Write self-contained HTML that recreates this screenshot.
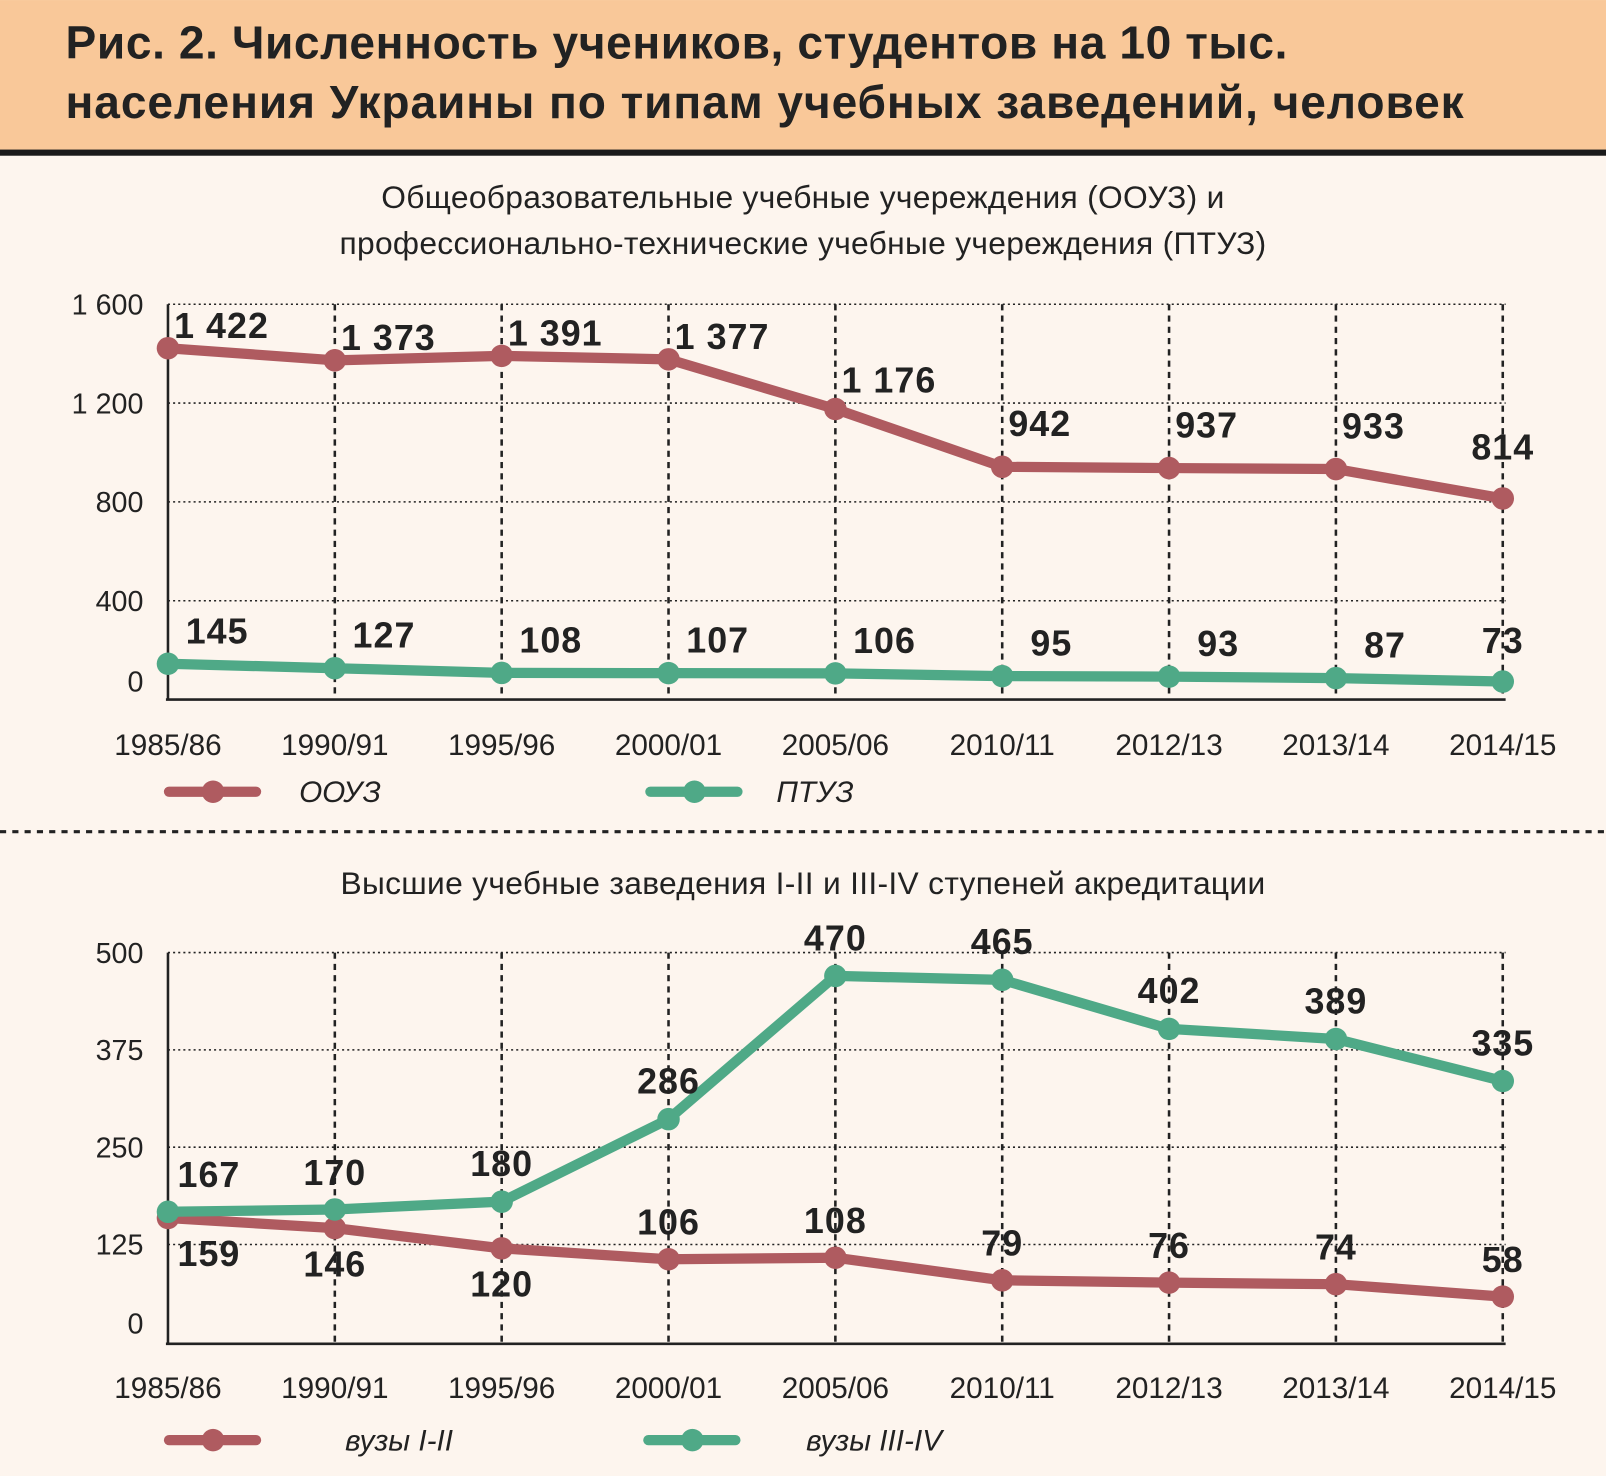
<!DOCTYPE html>
<html><head><meta charset="utf-8"><style>
html,body{margin:0;padding:0;background:#fdf5ee}
svg{display:block}
text{font-family:"Liberation Sans",sans-serif}
</style></head><body>
<svg width="1606" height="1476" viewBox="0 0 1568 1441" xmlns="http://www.w3.org/2000/svg">
<rect x="0" y="0" width="1568" height="1441" fill="#fdf5ee"/>
<rect x="0" y="0" width="1568" height="148" fill="#f9c899"/>
<rect x="0" y="146" width="1568" height="6" fill="#1a1a1a"/>
<text x="64" y="57" font-size="45" font-weight="bold" fill="#222" letter-spacing="0.6">Рис. 2. Численность учеников, студентов на 10 тыс.</text>
<text x="64" y="115" font-size="45" font-weight="bold" fill="#222" letter-spacing="0.9">населения Украины по типам учебных заведений, человек</text>
<text x="784" y="203" font-size="31" text-anchor="middle" fill="#222" letter-spacing="0.3">Общеобразовательные учебные учереждения (ООУЗ) и</text>
<text x="784" y="248" font-size="31" text-anchor="middle" fill="#222" letter-spacing="0.3">профессионально-технические учебные учереждения (ПТУЗ)</text>
<line x1="0" y1="812" x2="1568" y2="812" stroke="#222" stroke-width="3" stroke-dasharray="6,6"/>
<text x="784" y="873" font-size="31" text-anchor="middle" fill="#222" letter-spacing="0.3">Высшие учебные заведения I-II и III-IV ступеней акредитации</text>
<g id="top"></g>
<g id="bot"></g>
</svg>
<script>
const categories=["1985/86","1990/91","1995/96","2000/01","2005/06","2010/11","2012/13","2013/14","2014/15"];
const oouz=[1422,1373,1391,1377,1176,942,937,933,814];
const ptuz=[145,127,108,107,106,95,93,87,73];
const vuz12=[159,146,120,106,108,79,76,74,58];
const vuz34=[167,170,180,286,470,465,402,389,335];
const topTicks=[0,400,800,1200,1600];
const botTicks=[0,125,250,375,500];
const RED="#af5b60",GREEN="#4fa987",NS="http://www.w3.org/2000/svg";
function xPos(i){return 164+i*162.9;}
function mk(g,tag,a){const e=document.createElementNS(NS,tag);for(const k in a)e.setAttribute(k,a[k]);g.appendChild(e);return e;}
function fmt(v){return v>=1000?Math.floor(v/1000)+" "+String(v%1000).padStart(3,"0"):String(v);}
function chart(gid,ticks,y,axisY,series,labelFn,xlabY,legend){
 const g=document.getElementById(gid);
 const top=y(ticks[ticks.length-1]);
 ticks.forEach((t,k)=>{
  if(k>0){const l=mk(g,"line",{x1:164,x2:1470,y1:y(t),y2:y(t),stroke:"#222","stroke-width":1.5,"stroke-dasharray":"2,3"});
  
  }
  const tx=mk(g,"text",{x:140,y:(k==0?y(t)-8:y(t)+10),"font-size":28,"text-anchor":"end",fill:"#222"});tx.textContent=t.toLocaleString('ru-RU').replace(/\s/g,' ');
  
  
 });
 categories.forEach((c,i)=>{
  const l=mk(g,"line",{x1:xPos(i),x2:xPos(i),y1:top,y2:axisY,stroke:"#222","stroke-width":2.5,"stroke-dasharray":i==0?"none":"6,5"});
  
  
  const tx=mk(g,"text",{x:xPos(i),y:xlabY,"font-size":29,"text-anchor":"middle",fill:"#222"});tx.textContent=c;
  
  
 });
 const ax=mk(g,"line",{x1:162,x2:1470,y1:axisY,y2:axisY,stroke:"#222","stroke-width":2.5});
 
 
 series.forEach((s,si)=>{
  const pts=s.data.map((v,i)=>xPos(i)+","+y(v)).join(" ");
  const pl=mk(g,"polyline",{points:pts,fill:"none",stroke:s.color,"stroke-width":10,"stroke-linejoin":"round"});
  
  
  s.data.forEach((v,i)=>{
   const c=mk(g,"circle",{cx:xPos(i),cy:y(v),r:11,fill:s.color});
   
   
   const p=labelFn(si,i,v);
   const tx=mk(g,"text",{x:p[0],y:p[1],"font-size":35,"font-weight":"bold","text-anchor":p[2],fill:"#222","letter-spacing":"1"});tx.textContent=fmt(v);
   
   
  });
 });
 legend.forEach((L,k)=>{
  const lx=L.x;
  const l=mk(g,"line",{x1:lx,x2:lx+85,y1:L.y,y2:L.y,stroke:L.color,"stroke-width":10,"stroke-linecap":"round"});
  
  
  const c=mk(g,"circle",{cx:lx+43,cy:L.y,r:11,fill:L.color});
  
  
  const tx=mk(g,"text",{x:L.tx,y:L.y+10,"font-size":29,"font-style":"italic",fill:"#222"});tx.textContent=L.text;
  
  
 });
}
const yT=v=>683-v*0.24125;
chart("top",topTicks,yT,683,[{name:"oouz",data:oouz,color:RED},{name:"ptuz",data:ptuz,color:GREEN}],
 (si,i,v)=>si==0?(i==8?[xPos(i),yT(v)-38,"middle"]:[xPos(i)+6,yT(v)-10-(i>=5?20:0)-(i==4?6:0),"start"]):(i==8?[xPos(i),yT(v)-28,"middle"]:[xPos(i)+48,yT(v)-20,"middle"]),
 737,[{x:165,y:773,color:RED,text:"ООУЗ",tx:292},{x:635,y:773,color:GREEN,text:"ПТУЗ",tx:758}]);
const yB=v=>1310-v*0.76;
chart("bot",botTicks,yB,1312,[{name:"vuz-1-2",data:vuz12,color:RED},{name:"vuz-3-4",data:vuz34,color:GREEN}],
 (si,i,v)=>si==0?(i<3?[xPos(i)+(i==0?40:0),yB(v)+47,"middle"]:[xPos(i),yB(v)-24,"middle"]):(i<2?[xPos(i)+(i==0?40:0),yB(v)-24,"middle"]:[xPos(i),yB(v)-25,"middle"]),
 1365,[{x:165,y:1406,color:RED,text:"вузы I-II",tx:337},{x:633,y:1406,color:GREEN,text:"вузы III-IV",tx:787}]);
</script>
</body></html>
